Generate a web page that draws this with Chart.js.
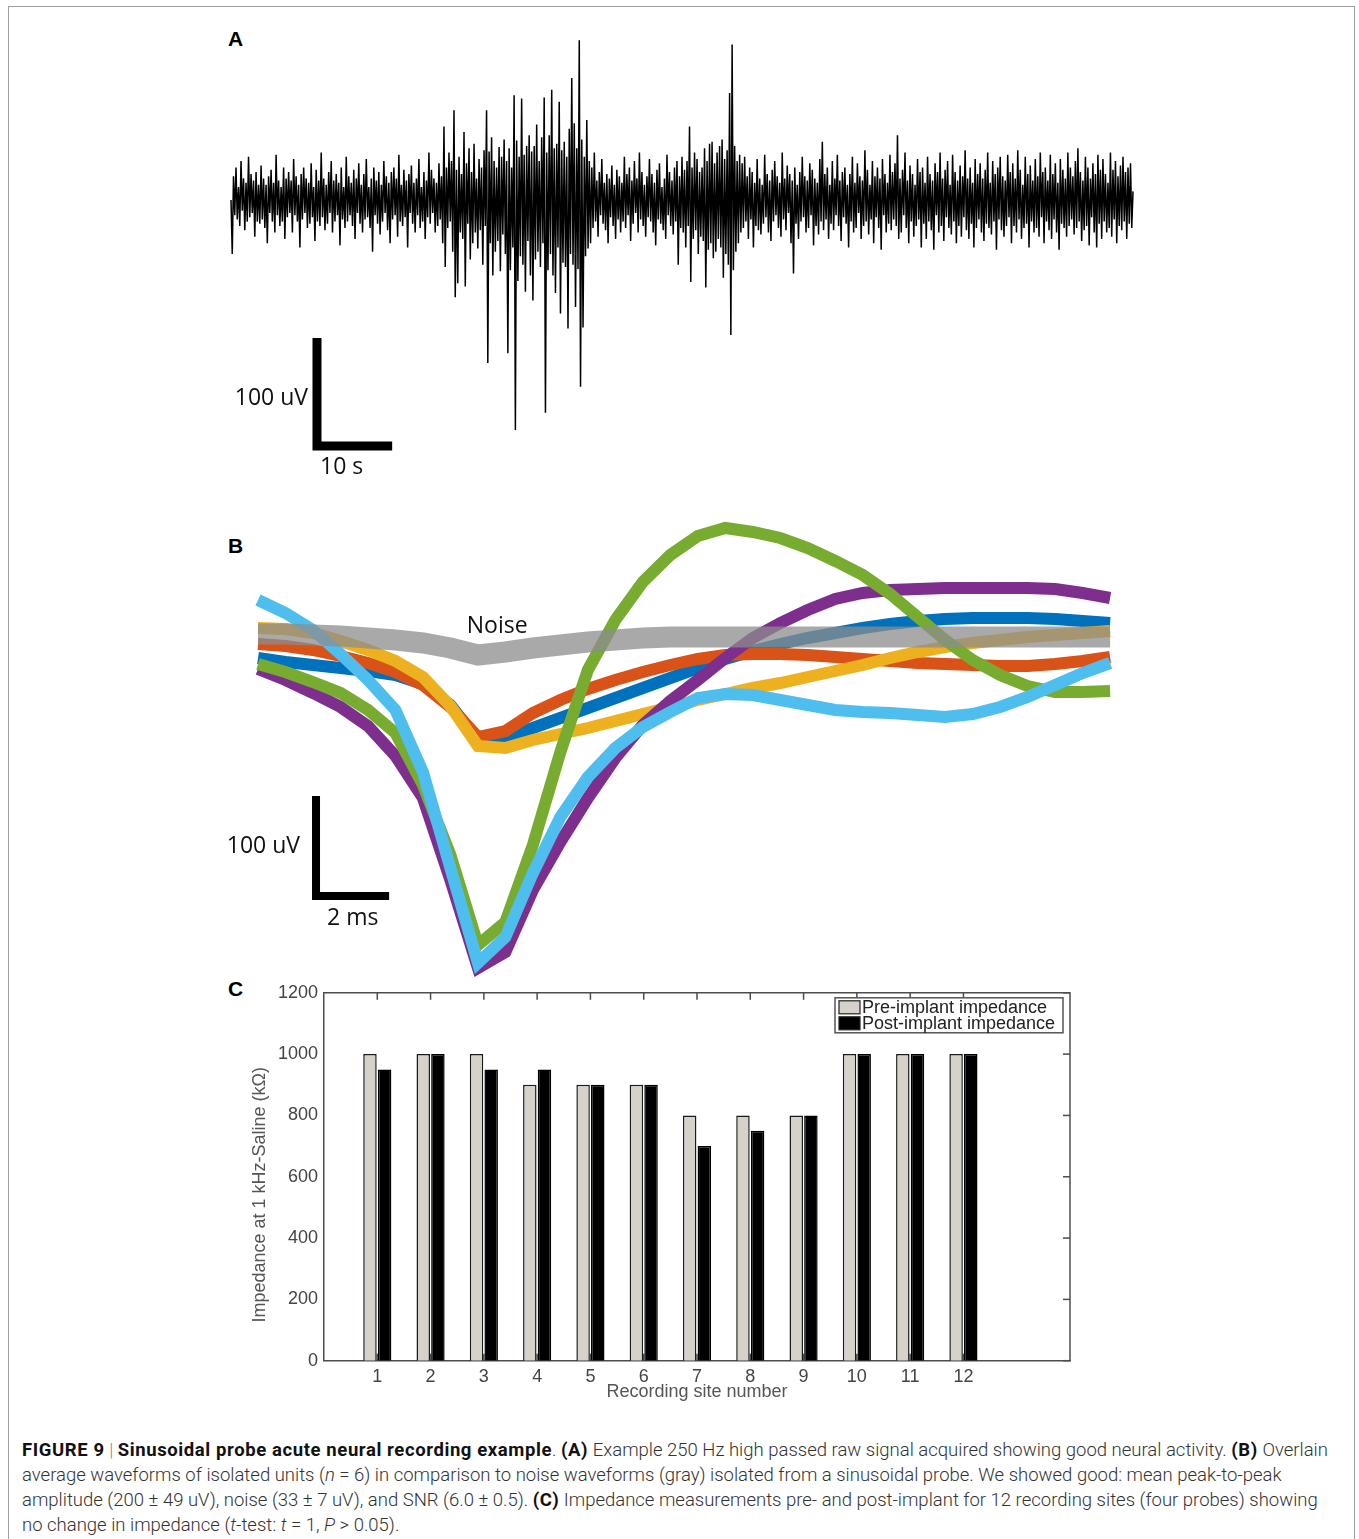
<!DOCTYPE html>
<html>
<head>
<meta charset="utf-8">
<title>Figure 9</title>
<script src="https://cdn.jsdelivr.net/npm/chart.js@4.4.0/dist/chart.umd.min.js"></script>
<style>
  body { margin: 0; background: #fff; }
  #page { position: relative; width: 1359px; height: 1539px; overflow: hidden; background: #fff; }
  #frame { position: absolute; left: 8px; top: 6px; width: 1345px; height: 1600px; border: 1px solid #a0a0a0; }
  canvas { position: absolute; }
  .letter { position: absolute; font: bold 21px "Liberation Sans", Arial, sans-serif; color: #000; line-height: 1; }
  #caption { position: absolute; left: 22px; top: 1438px; font-family: Roboto, "Liberation Sans", sans-serif; font-weight: 300;
             font-size: 18.5px; line-height: 25px; color: #333; white-space: nowrap; }
  #caption b { font-weight: 700; color: #111; letter-spacing: 0.6px; }
  #caption .bar { color: #888; font-weight: 300; }
</style>
</head>
<body>
<div id="page">
  <div id="frame"></div>
  <div class="letter" style="left:228px; top:28px;">A</div>
  <div class="letter" style="left:228px; top:535px;">B</div>
  <div class="letter" style="left:228px; top:978px;">C</div>
  <canvas id="chartA" width="920" height="460" style="left:220px; top:20px;"></canvas>
  <canvas id="chartB" width="920" height="480" style="left:220px; top:500px;"></canvas>
  <canvas id="chartC" width="880" height="427" style="left:220px; top:976px;"></canvas>
  <div id="caption">
    <div><b>FIGURE 9</b> <span class="bar">|</span> <b>Sinusoidal probe acute neural recording example</b>. <b>(A)</b> Example 250 Hz high passed raw signal acquired showing good neural activity. <b>(B)</b> Overlain</div>
    <div>average waveforms of isolated units (<i>n</i> = 6) in comparison to noise waveforms (gray) isolated from a sinusoidal probe. We showed good: mean peak-to-peak</div>
    <div>amplitude (200 ± 49 uV), noise (33 ± 7 uV), and SNR (6.0 ± 0.5). <b>(C)</b> Impedance measurements pre- and post-implant for 12 recording sites (four probes) showing</div>
    <div>no change in impedance (<i>t</i>-test: <i>t</i> = 1, <i>P</i> &gt; 0.05).</div>
  </div>
</div>

<script>
// ---- Panel A: raw high-passed trace (uV), evenly sampled over the recording ----
const recordSeconds = 120;
const rawSignal = [
  0,-50,22,-14,30,-18,12,-24,36,-10,20,-28,16,-20,40,-16,24,-12,18,-34,26,-20,14,-22,
  32,-18,20,-26,14,-40,22,-12,28,-20,16,-30,42,-14,18,-24,12,-20,30,-36,20,-16,26,-12,
  18,-30,38,-14,22,-20,14,-44,24,-18,30,-12,20,-26,16,-22,34,-16,12,-38,28,-20,18,-24,
  44,-16,20,-28,14,-22,26,-12,36,-30,18,-20,24,-14,16,-42,30,-18,12,-26,40,-20,22,-14,
  16,-24,28,-36,20,-12,34,-22,14,-30,24,-18,38,-16,12,-26,20,-48,30,-14,18,-22,26,-32,
  14,-20,36,-12,22,-28,16,-40,26,-18,30,-14,20,-34,42,-20,14,-24,28,-16,18,-44,24,-12,
  32,-22,16,-30,20,-14,38,-26,12,-20,26,-36,18,-16,44,-22,28,-12,20,-30,16,-24,34,-18,
  22,-40,68,-62,30,-26,44,-20,36,-48,83,-90,28,-77,40,-30,24,-36,63,-80,34,-22,48,-55,
  26,-40,52,-30,20,-45,38,-28,30,-60,46,-24,83,-151,45,-40,58,-70,36,-48,30,-38,49,-66,
  40,-32,56,-50,36,-142,48,-65,30,-44,97,-213,55,-75,40,-52,94,-60,42,-85,50,-38,60,-70,
  45,-93,50,-55,70,-48,36,-62,58,-40,95,-197,44,-65,60,-50,102,-70,48,-86,52,-44,91,-105,
  46,-58,54,-62,40,-119,66,-50,113,-60,71,-99,48,-64,148,-173,56,-118,40,-52,74,-45,36,-40,
  30,-26,44,-20,18,-34,26,-14,38,-22,16,-28,24,-40,20,-16,32,-24,14,-36,28,-18,22,-30,
  16,-20,40,-26,24,-14,30,-38,18,-22,36,-12,20,-30,44,-18,26,-24,14,-34,22,-16,38,-20,
  24,-30,16,-42,28,-18,34,-22,12,-28,20,-36,42,-14,26,-24,18,-32,30,-20,36,-60,22,-26,
  40,-30,28,-44,36,-24,68,-76,30,-36,44,-28,38,-50,26,-34,30,-38,48,-81,36,-46,52,-40,
  54,-54,34,-48,44,-36,50,-44,56,-72,38,-50,46,-60,99,-125,144,-65,50,-48,36,-40,42,-30,
  34,-26,40,-20,22,-36,30,-18,26,-44,16,-24,38,-28,20,-32,14,-22,42,-16,24,-30,18,-38,
  28,-20,36,-14,22,-26,16,-34,44,-18,20,-28,32,-12,24,-40,18,-68,30,-22,14,-36,26,-20,
  40,-16,22,-30,18,-26,34,-14,28,-42,20,-24,16,-32,38,-20,54,-28,24,-18,30,-36,14,-22,
  36,-28,20,-14,42,-24,18,-38,26,-16,30,-22,14,-44,24,-20,40,-30,16,-26,34,-12,22,-36,
  18,-24,46,-20,28,-32,14,-18,36,-40,22,-16,30,-26,20,-46,38,-14,24,-30,16,-22,42,-28,
  26,-18,34,-24,60,-36,20,-30,28,-14,44,-26,18,-40,32,-20,24,-34,14,-24,38,-18,26,-44,
  30,-22,16,-36,40,-20,24,-28,18,-46,34,-14,26,-30,44,-24,20,-38,28,-16,36,-26,14,-32,
  42,-20,26,-40,18,-24,32,-34,22,-16,46,-28,20,-36,30,-22,16,-44,38,-26,24,-18,34,-30,
  20,-38,28,-22,44,-26,16,-32,36,-20,24,-46,30,-18,40,-28,22,-34,18,-24,42,-16,26,-40,
  34,-24,20,-30,46,-18,28,-36,14,-26,40,-22,24,-44,32,-20,18,-30,38,-26,22,-34,44,-16,
  26,-40,30,-20,18,-28,42,-36,24,-18,34,-30,16,-46,38,-22,28,-26,20,-34,44,-24,30,-18,
  22,-32,36,-26,48,-20,26,-38,18,-28,40,-24,30,-42,20,-16,34,-30,24,-44,42,-22,28,-36,
  38,-20,24,-30,16,-26,44,-34,28,-18,36,-40,22,-24,32,-28,40,-20,26,-36,30,-22,34,-26,
  8
];
// scale bar for A: 100 uV by 10 s, corner position in data units
const barA = { t: 11.44, v: -227.8, dv: 100, dt: 10 };

// ---- Panel B: mean spike waveforms (uV), 32 samples each ----
const msPerSample = 0.752;
const noiseWave  = [6,6,5,4,2,0,-3,-8,-15,-12,-8,-5,-2,0,2,3,3,3,3,3,3,3,3,3,3,3,3,3,3,3,3,3];
const unitBlue   = [-18,-22,-25,-28,-31,-35,-44,-65,-100,-98,-88,-78,-68,-58,-48,-38,-28,-19,-11,-4,2,7,12,16,19,21,22,22,22,21,19,17];
const unitOrange = [-4,-6,-10,-16,-23,-32,-45,-67,-97,-91,-73,-60,-49,-40,-32,-25,-19,-15,-14,-14,-15,-17,-19,-21,-23,-24,-25,-26,-26,-24,-21,-17];
const unitYellow = [12,11,7,-1,-10,-21,-37,-66,-106,-108,-100,-94,-88,-81,-74,-67,-60,-54,-48,-43,-37,-31,-25,-18,-12,-7,-3,0,3,5,7,9];
const unitPurple = [-29,-40,-53,-67,-86,-116,-158,-240,-328,-312,-250,-202,-158,-118,-85,-61,-40,-18,2,17,30,41,47,50,51,52,52,52,52,51,47,42];
const unitGreen  = [-24,-32,-42,-53,-70,-93,-145,-215,-305,-282,-205,-112,-30,20,58,85,104,112,108,102,92,79,65,46,23,0,-20,-35,-46,-52,-52,-51];
const unitCyan   = [40,27,10,-14,-40,-70,-132,-228,-323,-297,-233,-177,-137,-108,-87,-72,-58,-54,-55,-60,-65,-70,-72,-73,-75,-77,-74,-67,-57,-45,-33,-23];
const barB = { t: 1.587, v: -256, dv: 100, dt: 2 };

// ---- Panel C: impedance per recording site (kOhm) ----
const sites = [1,2,3,4,5,6,7,8,9,10,11,12];
const preImplant  = [1000,1000,1000,900,900,900,800,800,800,1000,1000,1000];
const postImplant = [950,1000,950,950,900,900,700,750,800,1000,1000,1000];
const yTicksC = [0,200,400,600,800,1000,1200];

// text placed next to scale bars etc, in data coords + pixel nudge
const textMarks = {
  id: 'textMarks',
  afterDatasetsDraw(chart, args, opts) {
    const { ctx, scales: { x, y } } = chart;
    ctx.save();
    ctx.fillStyle = '#111';
    ctx.textBaseline = 'middle';
    ctx.font = opts.font;
    opts.items.forEach(it => {
      ctx.textAlign = it.align;
      ctx.fillText(it.text, x.getPixelForValue(it.x) + it.dx, y.getPixelForValue(it.y) + it.dy);
    });
    ctx.restore();
  }
};

function scaleBarData(b) {
  return [{ x: b.t, y: b.v + b.dv }, { x: b.t, y: b.v }, { x: b.t + b.dt, y: b.v }];
}

const baseOpts = {
  responsive: false,
  animation: false,
  events: [],
  layout: { padding: 0 }
};

// Panel A
new Chart(document.getElementById('chartA'), {
  type: 'line',
  data: {
    datasets: [{
      data: rawSignal.map((v, i) => ({ x: i * recordSeconds / (rawSignal.length - 1), y: v })),
      borderColor: '#000', borderWidth: 1.5, pointRadius: 0, tension: 0
    }, {
      data: scaleBarData(barA),
      borderColor: '#000', borderWidth: 9, pointRadius: 0, borderJoinStyle: 'miter'
    }]
  },
  options: {
    ...baseOpts,
    plugins: {
      legend: { display: false }, tooltip: { enabled: false },
      textMarks: {
        font: '23px "Open Sans", sans-serif',
        items: [
          { text: '100 uV', x: barA.t, y: barA.v + barA.dv / 2, dx: -9, dy: 6, align: 'right' },
          { text: '10 s', x: barA.t, y: barA.v, dx: 3, dy: 21, align: 'left' }
        ]
      }
    },
    scales: {
      x: { type: 'linear', display: false, min: -1.463, max: 120.93 },
      y: { display: false, min: -259.26, max: 166.67 }
    }
  },
  plugins: [textMarks]
});

// Panel B
function wave(vals, color, width) {
  return {
    data: vals.map((v, i) => ({ x: i * msPerSample, y: v })),
    borderColor: color, borderWidth: width, pointRadius: 0, tension: 0,
    borderJoinStyle: 'miter'
  };
}

new Chart(document.getElementById('chartB'), {
  type: 'line',
  data: {
    // first dataset ends up on top
    datasets: [
      wave(noiseWave, 'rgba(140,140,140,0.75)', 21),
      wave(unitCyan, '#4DBEEE', 12),
      wave(unitGreen, '#77AC30', 12),
      wave(unitPurple, '#7E2F8E', 12),
      wave(unitYellow, '#EDB120', 12),
      wave(unitOrange, '#D95319', 12),
      wave(unitBlue, '#0072BD', 12),
      { data: scaleBarData(barB), borderColor: '#000', borderWidth: 8, pointRadius: 0, borderJoinStyle: 'miter' }
    ]
  },
  options: {
    ...baseOpts,
    plugins: {
      legend: { display: false }, tooltip: { enabled: false },
      textMarks: {
        font: '23px "Open Sans", sans-serif',
        items: [
          { text: 'Noise', x: 8.7 * msPerSample, y: 14, dx: 0, dy: 0, align: 'center' },
          { text: '100 uV', x: barB.t, y: barB.v + barB.dv / 2, dx: -16, dy: 0, align: 'right' },
          { text: '2 ms', x: barB.t, y: barB.v, dx: 11, dy: 22, align: 'left' }
        ]
      }
    },
    scales: {
      x: { type: 'linear', display: false, min: -1.040, max: 24.13 },
      y: { display: false, min: -340, max: 140 }
    }
  },
  plugins: [textMarks]
});

// Panel C helpers: matlab-ish box with inward ticks, legend, y title
const axisColor = '#4d4d4d';
const boxAxes = {
  id: 'boxAxes',
  beforeDatasetsDraw(chart) {
    // bottom ticks sit behind the bars
    const { ctx, chartArea: a, scales: { x } } = chart;
    ctx.save();
    ctx.strokeStyle = axisColor; ctx.lineWidth = 1.5;
    sites.forEach(s => {
      const px = x.getPixelForValue(s);
      ctx.beginPath(); ctx.moveTo(px, a.bottom); ctx.lineTo(px, a.bottom - 7); ctx.stroke();
    });
    ctx.restore();
  },
  afterDraw(chart) {
    const { ctx, chartArea: a, scales: { x, y } } = chart;
    ctx.save();
    ctx.strokeStyle = axisColor; ctx.lineWidth = 1.5;
    ctx.beginPath();
    ctx.moveTo(a.left, a.top); ctx.lineTo(a.right, a.top); ctx.lineTo(a.right, a.bottom);
    ctx.stroke();
    sites.forEach(s => {
      const px = x.getPixelForValue(s);
      ctx.beginPath(); ctx.moveTo(px, a.top); ctx.lineTo(px, a.top + 7); ctx.stroke();
    });
    yTicksC.forEach(v => {
      const py = y.getPixelForValue(v);
      ctx.beginPath(); ctx.moveTo(a.right, py); ctx.lineTo(a.right - 7, py); ctx.stroke();
    });

    // y axis title, centred a bit below the axis middle like the original
    ctx.fillStyle = '#555';
    ctx.font = '18px "Liberation Sans", Arial, sans-serif';
    ctx.textAlign = 'center'; ctx.textBaseline = 'middle';
    ctx.translate(40, (a.top + a.bottom) / 2 + 18);
    ctx.rotate(-Math.PI / 2);
    ctx.fillText('Impedance at 1 kHz-Saline (k\u03A9)', 0, 0);
    ctx.restore();

    // legend box, top right inside the axes
    const ds = chart.data.datasets;
    const w = 228, h = 35;
    const lx = a.right - 7 - w, ly = a.top + 5;
    ctx.save();
    ctx.fillStyle = '#fff';
    ctx.fillRect(lx, ly, w, h);
    ctx.strokeStyle = '#555'; ctx.lineWidth = 1.5;
    ctx.strokeRect(lx, ly, w, h);
    ctx.font = '18px "Liberation Sans", Arial, sans-serif';
    ctx.textAlign = 'left'; ctx.textBaseline = 'middle';
    ds.forEach((d, i) => {
      const iy = ly + 3 + i * 16;
      ctx.fillStyle = d.backgroundColor;
      ctx.fillRect(lx + 4, iy, 21, 13);
      ctx.strokeStyle = '#222'; ctx.lineWidth = 1.2;
      ctx.strokeRect(lx + 4, iy, 21, 13);
      ctx.fillStyle = '#222';
      ctx.fillText(d.label, lx + 27, iy + 7);
    });
    ctx.restore();
  }
};

const tickFont = { family: '"Liberation Sans", Arial, sans-serif', size: 18 };

new Chart(document.getElementById('chartC'), {
  type: 'bar',
  data: {
    datasets: [{
      label: 'Pre-implant impedance',
      data: sites.map((s, i) => ({ x: s, y: preImplant[i] })),
      backgroundColor: '#d6d2ca', borderColor: '#1a1a1a', borderWidth: 1.5,
      categoryPercentage: 0.55, barPercentage: 0.92
    }, {
      label: 'Post-implant impedance',
      data: sites.map((s, i) => ({ x: s, y: postImplant[i] })),
      backgroundColor: '#000', borderColor: '#000', borderWidth: 1.5,
      categoryPercentage: 0.55, barPercentage: 0.92
    }]
  },
  options: {
    ...baseOpts,
    layout: { padding: { left: 0, right: 30, top: 8.7, bottom: 0 } },
    plugins: { legend: { display: false }, tooltip: { enabled: false } },
    scales: {
      x: {
        type: 'linear', min: 0, max: 14, offset: false,
        afterBuildTicks: s => { s.ticks = sites.map(v => ({ value: v })); },
        grid: { display: false, drawTicks: false },
        border: { display: true, color: axisColor, width: 1.5 },
        ticks: { padding: 6, color: '#444', font: tickFont, autoSkip: false, maxRotation: 0, callback: v => String(v) },
        title: { display: true, text: 'Recording site number', color: '#555', font: tickFont, padding: 0 },
        afterFit: s => { s.height = 42.3; }
      },
      y: {
        min: 0, max: 1200,
        afterBuildTicks: s => { s.ticks = yTicksC.map(v => ({ value: v })); },
        grid: { display: false, drawTicks: false },
        border: { display: true, color: axisColor, width: 1.5 },
        ticks: { padding: 6, color: '#444', font: tickFont, callback: v => String(v) },
        afterFit: s => { s.width = 104; }
      }
    }
  },
  plugins: [boxAxes]
});
</script>
</body>
</html>
